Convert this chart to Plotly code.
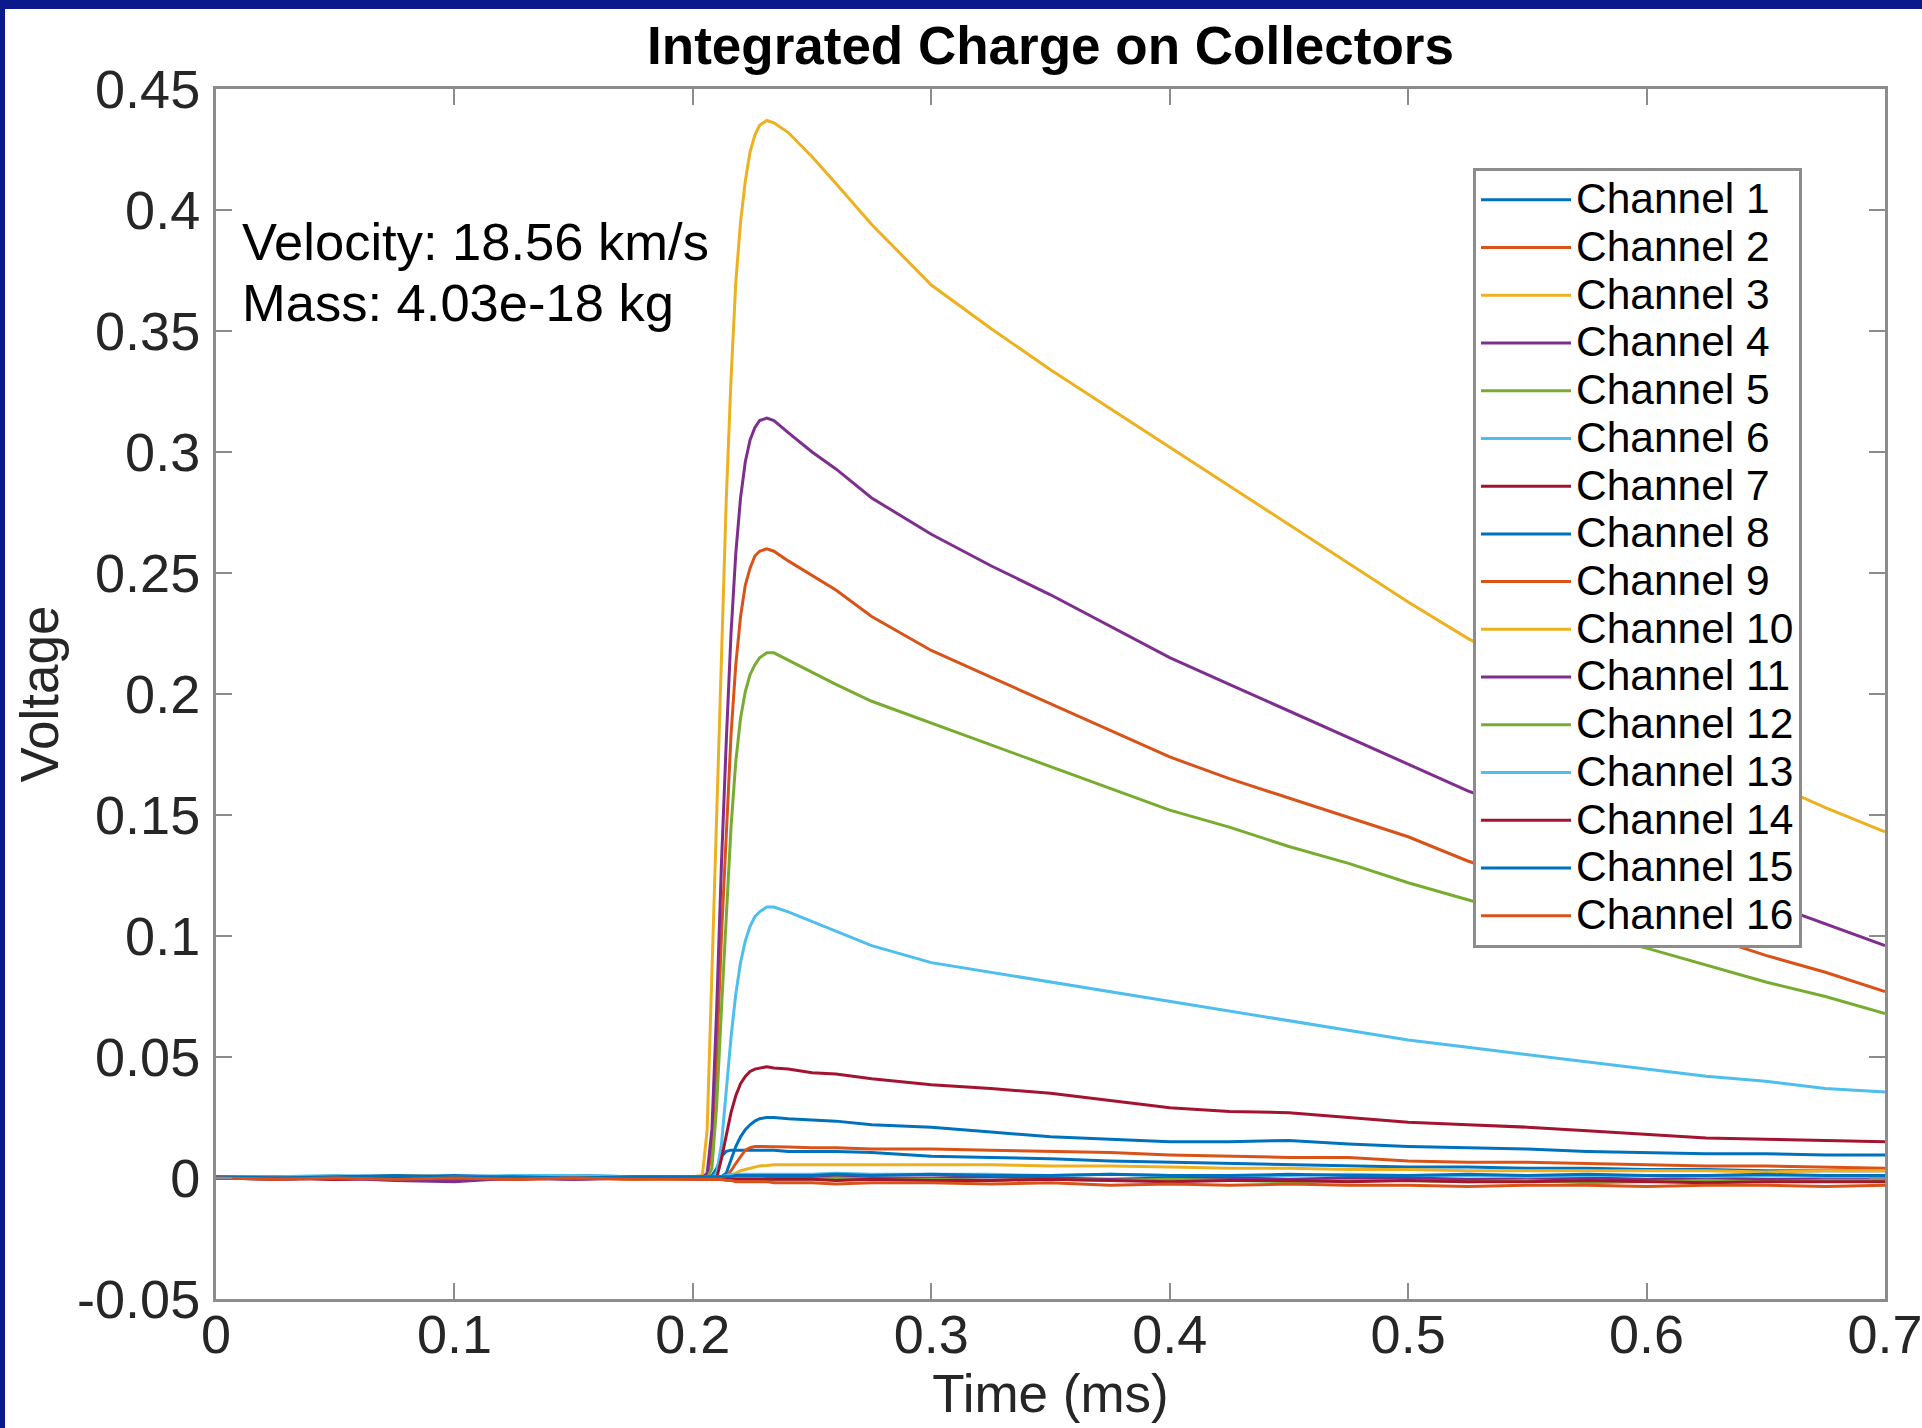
import plotly.graph_objects as go

# ---------------- data ----------------
time_ms = [0.000, 0.025, 0.050, 0.075, 0.100, 0.125, 0.150, 0.175, 0.200,
           0.204, 0.206, 0.208, 0.210, 0.212, 0.214, 0.216, 0.218, 0.220, 0.222, 0.224, 0.226, 0.228, 0.231, 0.234,
           0.240, 0.250, 0.260, 0.275,
           0.300, 0.325, 0.350, 0.375, 0.400, 0.425, 0.450, 0.475, 0.500, 0.525, 0.550, 0.575, 0.600, 0.625, 0.650, 0.675, 0.700]

ch1 = [0.0000, 0.0005, 0.0000, 0.0005, 0.0010, 0.0005, 0.0000, 0.0005, 0.0005,
       0.0005, 0.0005, 0.0010, 0.0040, 0.0090, 0.0110, 0.0115, 0.0115, 0.0115, 0.0115, 0.0115, 0.0115, 0.0115, 0.0115, 0.0115,
       0.0110, 0.0110, 0.0110, 0.0105,
       0.0090, 0.0085, 0.0080, 0.0070, 0.0065, 0.0060, 0.0055, 0.0050, 0.0045, 0.0045, 0.0040, 0.0040, 0.0035, 0.0035, 0.0030, 0.0030, 0.0030]
ch2 = [0.0000, 0.0005, -0.0005, 0.0000, 0.0005, -0.0005, 0.0000, 0.0005, 0.0000,
       0.000, 0.000, 0.012, 0.050, 0.100, 0.145, 0.183, 0.212, 0.232, 0.245, 0.252, 0.257, 0.259, 0.260, 0.259,
       0.255, 0.249, 0.243, 0.232,
       0.218, 0.207, 0.196, 0.185, 0.174, 0.165, 0.157, 0.149, 0.141, 0.131, 0.123, 0.116, 0.108, 0.100, 0.092, 0.085, 0.077]
ch3 = [0.0000, 0.0005, 0.0000, 0.0010, 0.0005, 0.0000, 0.0005, 0.0000, 0.0005,
       0.001, 0.020, 0.085, 0.155, 0.220, 0.280, 0.330, 0.370, 0.395, 0.412, 0.424, 0.431, 0.435, 0.437, 0.436,
       0.432, 0.422, 0.411, 0.394,
       0.369, 0.351, 0.334, 0.318, 0.302, 0.286, 0.270, 0.254, 0.238, 0.223, 0.210, 0.198, 0.186, 0.175, 0.164, 0.153, 0.143]
ch4 = [0.0000, -0.0005, 0.0000, -0.0010, -0.0015, 0.0000, 0.0005, 0.0000, 0.0000,
       0.000, 0.002, 0.020, 0.070, 0.130, 0.180, 0.225, 0.258, 0.281, 0.296, 0.305, 0.310, 0.313, 0.314, 0.313,
       0.308, 0.300, 0.293, 0.281,
       0.266, 0.253, 0.241, 0.228, 0.215, 0.204, 0.193, 0.182, 0.171, 0.160, 0.151, 0.142, 0.133, 0.124, 0.114, 0.105, 0.096]
ch5 = [0.0000, 0.0000, 0.0005, 0.0000, 0.0000, 0.0005, 0.0000, 0.0000, 0.0005,
       0.000, 0.000, 0.004, 0.030, 0.070, 0.110, 0.145, 0.172, 0.190, 0.201, 0.208, 0.212, 0.215, 0.217, 0.217,
       0.214, 0.209, 0.204, 0.197,
       0.188, 0.179, 0.170, 0.161, 0.152, 0.145, 0.137, 0.130, 0.122, 0.115, 0.108, 0.101, 0.095, 0.088, 0.081, 0.075, 0.068]
ch6 = [0.0005, 0.0000, 0.0005, 0.0005, 0.0000, 0.0010, 0.0005, 0.0000, 0.0005,
       0.000, 0.000, 0.000, 0.002, 0.014, 0.036, 0.058, 0.076, 0.089, 0.098, 0.104, 0.108, 0.110, 0.112, 0.112,
       0.110, 0.106, 0.102, 0.096,
       0.089, 0.085, 0.081, 0.077, 0.073, 0.069, 0.065, 0.061, 0.057, 0.054, 0.051, 0.048, 0.045, 0.042, 0.040, 0.037, 0.0355]
ch7 = [0.0000, 0.0000, -0.0005, 0.0000, 0.0005, 0.0000, -0.0005, 0.0000, 0.0000,
       0.000, 0.000, 0.000, 0.000, 0.008, 0.018, 0.027, 0.034, 0.039, 0.042, 0.044, 0.045, 0.0455, 0.046, 0.0455,
       0.045, 0.0435, 0.043, 0.041,
       0.0385, 0.037, 0.035, 0.032, 0.029, 0.0275, 0.027, 0.025, 0.023, 0.022, 0.021, 0.0195, 0.018, 0.0165, 0.016, 0.0155, 0.015]
ch8 = [0.0005, 0.0005, 0.0000, 0.0005, 0.0000, 0.0005, 0.0010, 0.0005, 0.0005,
       0.0005, 0.0005, 0.0005, 0.0005, 0.0005, 0.002, 0.008, 0.013, 0.017, 0.020, 0.022, 0.0235, 0.0245, 0.025, 0.025,
       0.0245, 0.024, 0.0235, 0.022,
       0.021, 0.019, 0.017, 0.016, 0.015, 0.015, 0.0155, 0.014, 0.013, 0.0125, 0.012, 0.011, 0.0105, 0.010, 0.010, 0.0095, 0.0095]
ch9 = [0.0000, -0.0005, 0.0000, 0.0000, -0.0005, 0.0000, 0.0000, -0.0005, 0.0000,
       0.000, 0.000, 0.000, 0.000, 0.000, 0.0005, 0.003, 0.006, 0.009, 0.0115, 0.0125, 0.013, 0.013, 0.013, 0.013,
       0.0128, 0.0125, 0.0125, 0.012,
       0.012, 0.0115, 0.011, 0.0105, 0.0095, 0.009, 0.0085, 0.0085, 0.007, 0.0065, 0.0065, 0.006, 0.0055, 0.005, 0.005, 0.0045, 0.004]
ch10 = [0.0000, 0.0000, 0.0005, 0.0000, 0.0000, 0.0000, 0.0005, 0.0000, 0.0000,
        0.000, 0.000, 0.000, 0.000, 0.000, 0.000, 0.001, 0.002, 0.003, 0.0035, 0.004, 0.0045, 0.005, 0.0052, 0.0055,
        0.0055, 0.0055, 0.0055, 0.0055,
        0.0055, 0.0055, 0.005, 0.005, 0.0045, 0.004, 0.004, 0.0035, 0.0035, 0.003, 0.003, 0.003, 0.003, 0.003, 0.0025, 0.003, 0.003]
ch11 = [0.0000, -0.0005, 0.0000, 0.0000, -0.0010, 0.0000, -0.0005, 0.0000, 0.0000,
        0.000, 0.000, 0.000, 0.000, 0.000, 0.000, 0.0005, 0.0005, 0.0005, 0.0005, 0.0005, 0.0005, 0.0005, 0.0005, 0.0005,
        0.0005, 0.000, 0.0005, 0.000,
        0.000, 0.0005, 0.000, -0.0005, 0.000, 0.000, -0.0005, 0.000, 0.000, -0.0005, -0.0005, 0.000, -0.0005, 0.000, -0.0005, -0.0005, -0.0005]
ch12 = [0.0000, 0.0000, 0.0000, 0.0005, 0.0000, 0.0000, 0.0000, 0.0005, 0.0000,
        0.000, 0.000, 0.000, 0.000, 0.000, 0.000, 0.000, 0.000, 0.000, 0.000, 0.000, 0.000, 0.000, -0.0005, -0.0005,
        -0.0005, -0.0005, 0.000, -0.0005,
        -0.0005, -0.001, -0.0005, -0.001, -0.0005, -0.001, -0.0015, -0.001, -0.001, -0.0015, -0.001, -0.002, -0.0015, -0.001, -0.0015, -0.001, -0.001]
ch13 = [0.0005, 0.0005, 0.0010, 0.0005, 0.0005, 0.0010, 0.0010, 0.0005, 0.0005,
        0.0005, 0.0005, 0.0005, 0.0005, 0.0005, 0.001, 0.0015, 0.0015, 0.0015, 0.0015, 0.0015, 0.0015, 0.0015, 0.0015, 0.0015,
        0.0015, 0.0015, 0.002, 0.0015,
        0.0015, 0.0015, 0.001, 0.0015, 0.001, 0.001, 0.001, 0.0015, 0.001, 0.001, 0.0005, 0.001, 0.001, 0.0005, 0.001, 0.0005, 0.0005]
ch14 = [0.0000, 0.0000, -0.0005, 0.0000, 0.0000, -0.0005, 0.0000, 0.0000, -0.0005,
        -0.0005, -0.0005, -0.0005, -0.0005, -0.0005, -0.0005, -0.0005, -0.0005, -0.0005, -0.0005, -0.0005, -0.0005, -0.0005, -0.0005, -0.0005,
        -0.0005, -0.0005, -0.001, -0.0005,
        -0.001, -0.001, -0.0005, -0.001, -0.0015, -0.001, -0.001, -0.0015, -0.001, -0.0015, -0.0015, -0.001, -0.0015, -0.002, -0.0015, -0.0015, -0.0015]
ch15 = [0.0005, 0.0000, 0.0005, 0.0010, 0.0005, 0.0005, 0.0000, 0.0005, 0.0005,
        0.0005, 0.0005, 0.0005, 0.0005, 0.0005, 0.0005, 0.0005, 0.001, 0.001, 0.001, 0.001, 0.001, 0.001, 0.001, 0.001,
        0.001, 0.001, 0.0015, 0.001,
        0.0015, 0.001, 0.001, 0.0015, 0.001, 0.001, 0.0015, 0.001, 0.001, 0.0015, 0.001, 0.0015, 0.001, 0.001, 0.0015, 0.001, 0.001]
ch16 = [0.0000, -0.0005, 0.0000, -0.0005, 0.0000, -0.0005, 0.0000, -0.0005, -0.0005,
        -0.0005, -0.0005, -0.0005, -0.0005, -0.0005, -0.001, -0.001, -0.0015, -0.0015, -0.0015, -0.0015, -0.0015, -0.0015, -0.0015, -0.002,
        -0.002, -0.002, -0.0025, -0.002,
        -0.002, -0.0025, -0.002, -0.003, -0.0025, -0.003, -0.0025, -0.003, -0.003, -0.0035, -0.003, -0.003, -0.0035, -0.003, -0.003, -0.0035, -0.003]

channel_names = ["Channel %d" % i for i in range(1, 17)]
channel_values = [ch1, ch2, ch3, ch4, ch5, ch6, ch7, ch8,
                  ch9, ch10, ch11, ch12, ch13, ch14, ch15, ch16]

x_tick_vals = [0.0, 0.1, 0.2, 0.3, 0.4, 0.5, 0.6, 0.7]
x_tick_text = ["0", "0.1", "0.2", "0.3", "0.4", "0.5", "0.6", "0.7"]
y_tick_vals = [-0.05, 0.0, 0.05, 0.1, 0.15, 0.2, 0.25, 0.3, 0.35, 0.4, 0.45]
y_tick_text = ["-0.05", "0", "0.05", "0.1", "0.15", "0.2", "0.25", "0.3", "0.35", "0.4", "0.45"]

velocity_text = "Velocity: 18.56 km/s"
mass_text = "Mass: 4.03e-18 kg"

# ---------------- styling ----------------
palette = ["#0072BD", "#D95319", "#EDB120", "#7E2F8E", "#77AC30", "#4DBEEE", "#A2142F"]
FONT = "Liberation Sans, Arial, Helvetica, sans-serif"
AXIS_GRAY = "#8c8c8c"
NAVY = "#0A1A8C"
LEGEND_TEXT_PX = 42.5

W, H = 1922, 1428
L, R, T, B = 216, 37, 89, 129
plot_w = W - L - R
plot_h = H - T - B

fig = go.Figure()
for i, (name, vals) in enumerate(zip(channel_names, channel_values)):
    fig.add_trace(go.Scatter(
        x=time_ms, y=vals, mode="lines",
        name='<span style="font-size:%gpx">%s</span>' % (LEGEND_TEXT_PX, name),
        hovertemplate=name + "<br>%{x}, %{y}<extra></extra>",
        line=dict(color=palette[i % len(palette)], width=3),
    ))

axis_common = dict(
    showline=True, linecolor=AXIS_GRAY, linewidth=3, mirror="ticks",
    ticks="inside", ticklen=16, tickwidth=2, tickcolor=AXIS_GRAY,
    showgrid=False, zeroline=False, ticklabeloverflow="allow",
    tickfont=dict(family=FONT, size=54, color="#262626"),
)

fig.update_xaxes(range=[0, 0.7], tickvals=x_tick_vals, ticktext=x_tick_text,
                 ticklabelstandoff=-14,
                 title=dict(text="Time (ms)", font=dict(family=FONT, size=53, color="#262626"), standoff=0),
                 **axis_common)
fig.update_yaxes(range=[-0.05, 0.45], tickvals=y_tick_vals, ticktext=y_tick_text,
                 ticklabelstandoff=2,
                 title=dict(text="Voltage", font=dict(family=FONT, size=53, color="#262626"), standoff=2),
                 **axis_common)

fig.add_annotation(xref="paper", yref="paper", x=(240 - L) / plot_w, y=(H - B - 242) / plot_h,
                   text=velocity_text, showarrow=False, xanchor="left", yanchor="middle",
                   font=dict(family=FONT, size=52.5, color="#000000"))
fig.add_annotation(xref="paper", yref="paper", x=(240 - L) / plot_w, y=(H - B - 302) / plot_h,
                   text=mass_text, showarrow=False, xanchor="left", yanchor="middle",
                   font=dict(family=FONT, size=52.5, color="#000000"))

fig.update_layout(
    width=W, height=H,
    margin=dict(l=L, r=R, t=T, b=B, pad=0, autoexpand=False),
    paper_bgcolor=NAVY, plot_bgcolor="white",
    shapes=[dict(type="rect", xref="paper", yref="paper", layer="below",
                 x0=(5 - L) / plot_w, x1=1.5, y0=-0.5, y1=(H - B - 9) / plot_h,
                 fillcolor="white", line=dict(width=0))],
    title=dict(text="<b>Integrated Charge on Collectors</b>", xref="paper", x=0.5, xanchor="center",
               yref="container", y=1 - 45 / H, yanchor="middle",
               font=dict(family=FONT, size=53, color="#000000")),
    legend=dict(x=(1473 - L) / plot_w, y=(H - B - 168) / plot_h, xanchor="left", yanchor="top",
                bgcolor="white", bordercolor=AXIS_GRAY, borderwidth=3,
                font=dict(family=FONT, size=34.4, color="#000000"),
                itemwidth=90, tracegroupgap=0),
    showlegend=True,
)

fig.write_html("out.html", config={"displayModeBar": False},
               post_script="document.body.style.margin='0px';document.body.style.overflow='hidden';")
